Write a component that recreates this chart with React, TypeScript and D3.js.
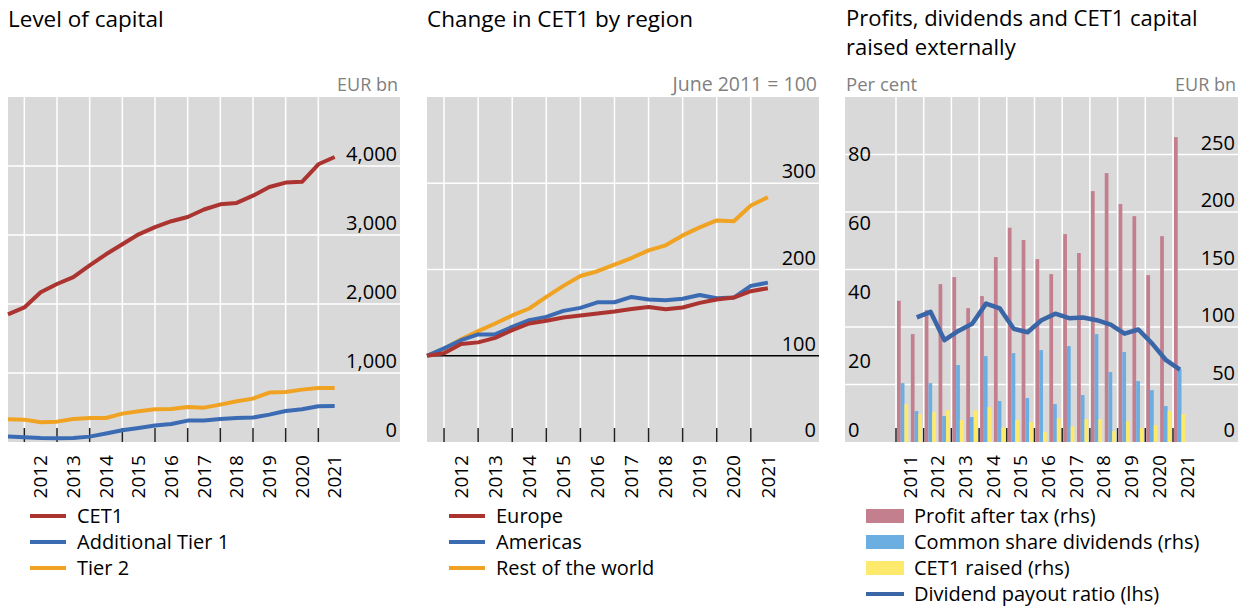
import { useEffect, useRef } from "react";
import * as d3 from "d3";

// half-year points, June 2011 .. June 2021
const cet1 = [1850, 1950, 2170, 2290, 2390, 2560, 2720, 2865, 3010, 3115, 3200, 3260, 3370, 3445, 3465, 3570, 3695, 3760, 3770, 4025, 4130];
const at1 = [78, 68, 58, 54, 58, 78, 122, 170, 203, 238, 261, 310, 310, 333, 348, 354, 397, 449, 474, 517, 522];
const tier2 = [329, 324, 285, 295, 333, 348, 348, 411, 445, 474, 478, 507, 498, 542, 590, 629, 716, 725, 759, 783, 783];

const europe = [100, 102.8, 113.5, 115.5, 120.8, 129.7, 137.4, 140.5, 144.4, 146.7, 149, 151.3, 154.3, 156.6, 154, 156, 161.3, 165.2, 167.5, 174.8, 178.3];
const americas = [100, 108.5, 118, 124.7, 124.7, 133.5, 141.3, 145.1, 152, 155.5, 162, 162, 168.2, 165.2, 164.4, 166, 170.5, 166.7, 167.5, 181, 184.8];
const restOfWorld = [100, 108, 119, 128.5, 137.4, 146.7, 154.8, 168.2, 181, 192.5, 198, 205.6, 213.3, 222.2, 228, 239.5, 248.8, 256.9, 256, 274.2, 283.8];

// half-years H1 2011 .. H1 2021
const profit = [122.8, 93.8, 114.7, 137.3, 143.4, 116.4, 126.9, 160.8, 186.3, 175.6, 159, 146, 180.8, 164.3, 218.2, 233.8, 206.9, 196.4, 145.1, 179, 265.1];
const dividends = [51.2, 26.9, 51.2, 22.5, 66.9, 21.7, 74.7, 35.6, 77.3, 38.2, 79.9, 33, 83.4, 40.8, 93.8, 60.8, 78.2, 53, 45.1, 31.2, 63.5];
const cet1Raised = [33, 24.3, 26, 27.7, 19, 27.7, 30.3, 12.7, 19, 17.3, 8.6, 20.8, 13.8, 19.9, 19.9, 9.5, 18.2, 12.1, 14.7, 26.9, 24.3];
const payout = [null, 36.1, 37.7, 29.5, 32.2, 34.3, 40.1, 38.7, 32.8, 31.8, 35.3, 37.2, 35.9, 36.1, 35.3, 34, 31.4, 32.6, 28.5, 23.7, 21];

const yearsA = ["2012", "2013", "2014", "2015", "2016", "2017", "2018", "2019", "2020", "2021"];
const yearsB = ["2011", "2012", "2013", "2014", "2015", "2016", "2017", "2018", "2019", "2020", "2021"];

const FONT = "'Open Sans', 'Noto Sans', sans-serif";
const BG = "#d9d9d9";
const RED = "#ab3430";
const BLUE = "#3b6cb3";
const ORANGE = "#f0a323";
const PINK = "#c47f8e";
const LBLUE = "#6aaee2";
const YELLOW = "#fde96c";
const PAYOUT = "#3a66a8";

const TOP = 97;
const BOTTOM = 442;

export default function App() {
  const svgRef = useRef<SVGSVGElement>(null);

  useEffect(() => {
    if (!svgRef.current) return;
    document.body.style.margin = "0";
    const svg = d3.select(svgRef.current);
    svg.selectAll("*").remove();

    const text = (x: number, y: number, s: string, size: number, anchor = "start", fill = "#000") =>
      svg
        .append("text")
        .attr("x", x)
        .attr("y", y)
        .attr("text-anchor", anchor)
        .attr("fill", fill)
        .style("font-family", FONT)
        .style("font-size", `${size}px`)
        .text(s);

    const frame = (left: number, right: number) =>
      svg.append("rect").attr("x", left).attr("y", TOP).attr("width", right - left).attr("height", BOTTOM - TOP).attr("fill", BG);

    const vgrid = (xs: number[]) => {
      xs.forEach((x) => {
        svg.append("line").attr("x1", x).attr("x2", x).attr("y1", TOP).attr("y2", BOTTOM).attr("stroke", "#fff").attr("stroke-width", 1.5);
      });
    };
    const hgrid = (ys: number[], left: number, right: number) => {
      ys.forEach((y) => {
        svg.append("line").attr("x1", left).attr("x2", right).attr("y1", y).attr("y2", y).attr("stroke", "#fff").attr("stroke-width", 1.5);
      });
    };
    const ticks = (xs: number[]) => {
      xs.forEach((x) => {
        svg.append("line").attr("x1", x).attr("x2", x).attr("y1", BOTTOM - 14).attr("y2", BOTTOM).attr("stroke", "#222").attr("stroke-width", 1.5);
      });
    };
    const xLabels = (labels: string[], xs: number[]) => {
      labels.forEach((l, i) => {
        svg
          .append("text")
          .attr("transform", `translate(${xs[i]},${BOTTOM + 13}) rotate(-90)`)
          .attr("dy", "0.35em")
          .attr("text-anchor", "end")
          .style("font-family", FONT)
          .style("font-size", "19px")
          .text(l);
      });
    };
    const lineLegend = (left: number, items: [string, string][]) => {
      items.forEach(([label, color], i) => {
        const y = 516 + i * 26;
        svg.append("line").attr("x1", left + 22).attr("x2", left + 58).attr("y1", y).attr("y2", y).attr("stroke", color).attr("stroke-width", 4);
        text(left + 69, y + 7, label, 20);
      });
    };

    // ---------- Panel 1: Level of capital
    {
      const L = 8, R = 400;
      const x = d3.scaleLinear().domain([0, 24]).range([L, R]);
      const y = d3.scaleLinear().domain([0, 5000]).range([BOTTOM, TOP]);
      text(L, 27, "Level of capital", 22.5);
      text(R - 2, 91, "EUR bn", 18, "end", "#7f7f7f");
      frame(L, R);
      const odd = d3.range(1, 20, 2).map((t) => x(t));
      vgrid(odd);
      hgrid([1000, 2000, 3000, 4000].map(y), L, R);
      ticks(odd);
      [0, 1000, 2000, 3000, 4000].forEach((v) => text(R - 3, y(v) - 5, d3.format(",")(v), 20, "end"));
      const line = d3.line<number>().x((_, i) => x(i)).y((d) => y(d));
      [[tier2, ORANGE], [at1, BLUE], [cet1, RED]].forEach(([data, color]) => {
        svg.append("path").datum(data as number[]).attr("fill", "none").attr("stroke", color as string).attr("stroke-width", 4).attr("stroke-linejoin", "round").attr("d", line);
      });
      xLabels(yearsA, yearsA.map((_, i) => x(2 + i * 2)));
      lineLegend(L, [["CET1", RED], ["Additional Tier 1", BLUE], ["Tier 2", ORANGE]]);
    }

    // ---------- Panel 2: Change in CET1 by region
    {
      const L = 427, R = 819;
      const x = d3.scaleLinear().domain([0, 23]).range([L, R]);
      const y = d3.scaleLinear().domain([0, 400]).range([BOTTOM, TOP]);
      text(L, 27, "Change in CET1 by region", 22.5);
      text(R - 2, 91, "June 2011 = 100", 19.5, "end", "#7f7f7f");
      frame(L, R);
      const odd = d3.range(1, 20, 2).map((t) => x(t));
      vgrid(odd);
      hgrid([200, 300].map(y), L, R);
      svg.append("line").attr("x1", L).attr("x2", R).attr("y1", y(100)).attr("y2", y(100)).attr("stroke", "#000").attr("stroke-width", 1.5);
      ticks(odd);
      [0, 100, 200, 300].forEach((v) => text(R - 3, y(v) - 5, String(v), 20, "end"));
      const line = d3.line<number>().x((_, i) => x(i)).y((d) => y(d));
      [[restOfWorld, ORANGE], [americas, BLUE], [europe, RED]].forEach(([data, color]) => {
        svg.append("path").datum(data as number[]).attr("fill", "none").attr("stroke", color as string).attr("stroke-width", 4).attr("stroke-linejoin", "round").attr("d", line);
      });
      xLabels(yearsA, yearsA.map((_, i) => x(2 + i * 2)));
      lineLegend(L, [["Europe", RED], ["Americas", BLUE], ["Rest of the world", ORANGE]]);
    }

    // ---------- Panel 3: Profits, dividends and CET1 raised
    {
      const L = 845, R = 1238;
      const x = d3.scaleLinear().domain([0, 21]).range([896, 896 + 21 * 13.85]);
      const step = x(1) - x(0);
      const yR = d3.scaleLinear().domain([0, 300]).range([BOTTOM, TOP]);
      const yL = d3.scaleLinear().domain([0, 100]).range([BOTTOM, TOP]);
      text(L + 1, 26, "Profits, dividends and CET1 capital", 22);
      text(L + 1, 55, "raised externally", 22);
      text(L + 1, 91, "Per cent", 18.5, "start", "#7f7f7f");
      text(R - 2, 91, "EUR bn", 18, "end", "#7f7f7f");
      frame(L, R);
      const bounds = d3.range(0, 21, 2).map((t) => x(t));
      vgrid(bounds);
      hgrid([50, 100, 150, 200, 250].map(yR), L, R);
      ticks(bounds);
      [0, 20, 40, 60, 80].forEach((v) => text(L + 3, yL(v) - 5, String(v), 20, "start"));
      [0, 50, 100, 150, 200, 250].forEach((v) => text(R - 3, yR(v) - 5, String(v), 20, "end"));
      const bw = step * 0.27;
      [[profit, PINK], [dividends, LBLUE], [cet1Raised, YELLOW]].forEach(([data, color], k) => {
        (data as number[]).forEach((v, i) => {
          svg
            .append("rect")
            .attr("x", x(i) + 1 + k * bw)
            .attr("y", yR(v))
            .attr("width", bw)
            .attr("height", yR(0) - yR(v))
            .attr("fill", color as string);
        });
      });
      const line = d3
        .line<number | null>()
        .defined((d) => d != null)
        .x((_, i) => x(i + 0.5))
        .y((d) => yL(d as number));
      svg.append("path").datum(payout).attr("fill", "none").attr("stroke", PAYOUT).attr("stroke-width", 4.5).attr("stroke-linejoin", "round").attr("d", line);
      xLabels(yearsB, yearsB.map((_, i) => x(1 + i * 2)));

      const items: [string, string][] = [
        ["Profit after tax (rhs)", PINK],
        ["Common share dividends (rhs)", LBLUE],
        ["CET1 raised (rhs)", YELLOW],
      ];
      items.forEach(([label, color], i) => {
        const yy = 516 + i * 26;
        svg.append("rect").attr("x", L + 21).attr("y", yy - 7).attr("width", 38).attr("height", 14).attr("fill", color);
        text(L + 69, yy + 7, label, 20);
      });
      const yy = 516 + 3 * 26;
      svg.append("line").attr("x1", L + 21).attr("x2", L + 59).attr("y1", yy).attr("y2", yy).attr("stroke", PAYOUT).attr("stroke-width", 4);
      text(L + 69, yy + 7, "Dividend payout ratio (lhs)", 20);
    }
  }, []);

  return <svg ref={svgRef} width={1250} height={608} style={{ display: "block", background: "#fff" }} />;
}
